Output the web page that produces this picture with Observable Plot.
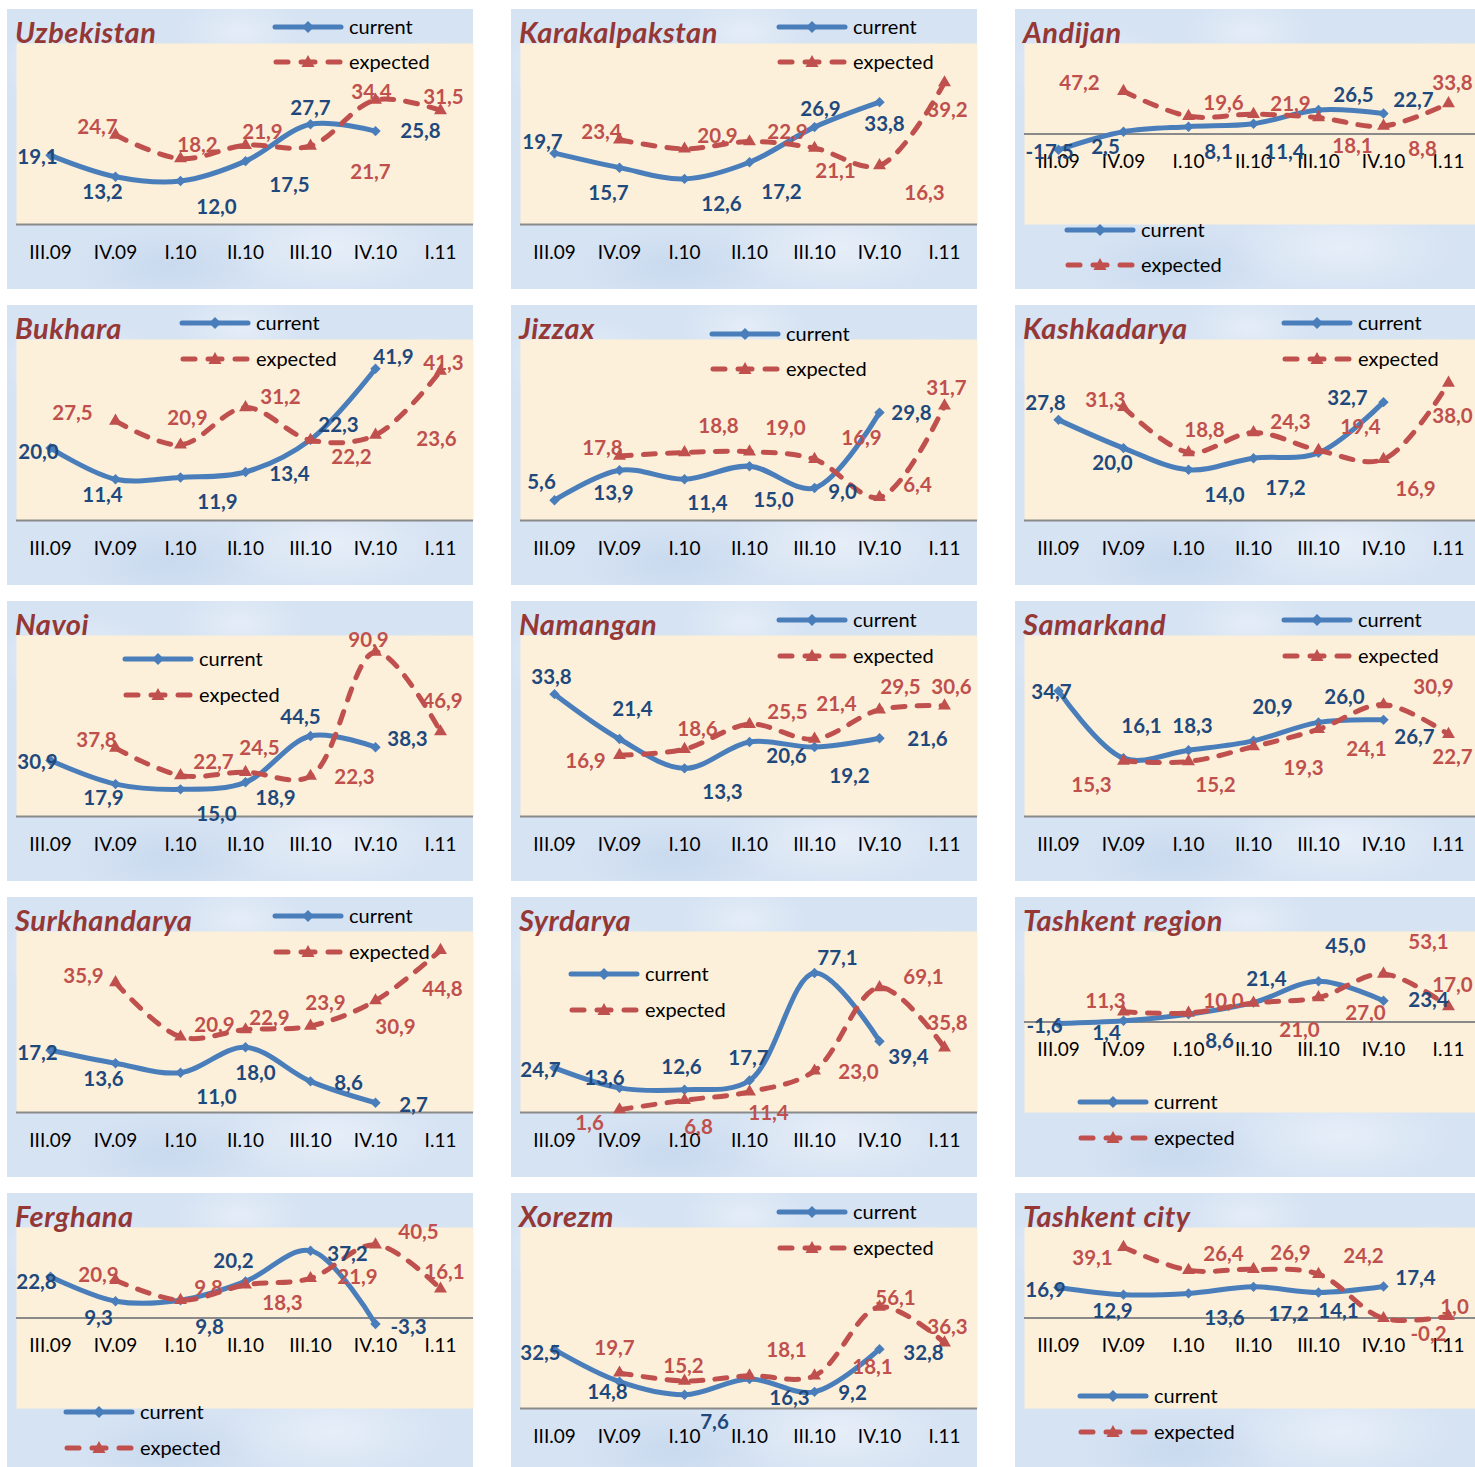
<!DOCTYPE html>
<html>
<head>
<meta charset="utf-8">
<script src="https://cdn.jsdelivr.net/npm/d3@7"></script>
<script src="https://cdn.jsdelivr.net/npm/@observablehq/plot@0.6"></script>
<style>
  body { margin: 0; background: #ffffff; overflow: hidden; font-family: Lato, "Open Sans", sans-serif; }
  #root { position: relative; width: 1475px; height: 1467px; overflow: hidden; }
  .panel {
    position: absolute; width: 466px; height: 280px;
    background-color: #d6e3f3;
    background-image:
      radial-gradient(ellipse 120px 60px at 15% 20%, rgba(255,255,255,0.45), rgba(255,255,255,0) 70%),
      radial-gradient(ellipse 160px 70px at 70% 85%, rgba(255,255,255,0.40), rgba(255,255,255,0) 70%),
      radial-gradient(ellipse 100px 80px at 90% 30%, rgba(255,255,255,0.35), rgba(255,255,255,0) 70%),
      radial-gradient(ellipse 140px 60px at 35% 92%, rgba(190,210,235,0.55), rgba(190,210,235,0) 70%),
      radial-gradient(ellipse 90px 50px at 50% 8%, rgba(255,255,255,0.35), rgba(255,255,255,0) 70%);
  }
  .panel > svg.chart { position: absolute; left: 0; top: 0; overflow: visible; }
  .title {
    position: absolute; left: 8px; top: 8px; line-height: 1; white-space: nowrap; letter-spacing: 0.5px;
    font-family: Lato, sans-serif; font-style: italic; font-weight: bold; font-size: 29px; color: #953735;
  }
  .legend { position: absolute; overflow: visible; }
</style>
</head>
<body>
<div id="root"></div>
<script>
// ---------------- DATA ----------------
const quarters = ["III.09", "IV.09", "I.10", "II.10", "III.10", "IV.10", "I.11"];

const regions = [
  "Uzbekistan", "Karakalpakstan", "Andijan",
  "Bukhara", "Jizzax", "Kashkadarya",
  "Navoi", "Namangan", "Samarkand",
  "Surkhandarya", "Syrdarya", "Tashkent region",
  "Ferghana", "Xorezm", "Tashkent city"
];

// "current" series: III.09 … IV.10
const currentValues = [
  [19.1, 13.2, 12.0, 17.5, 27.7, 25.8],   // Uzbekistan
  [19.7, 15.7, 12.6, 17.2, 26.9, 33.8],   // Karakalpakstan
  [-17.5, 2.5, 8.1, 11.4, 26.5, 22.7],    // Andijan
  [20.0, 11.4, 11.9, 13.4, 22.3, 41.9],   // Bukhara
  [5.6, 13.9, 11.4, 15.0, 9.0, 29.8],     // Jizzax
  [27.8, 20.0, 14.0, 17.2, 18.7, 32.7],   // Kashkadarya
  [30.9, 17.9, 15.0, 18.9, 44.5, 38.3],   // Navoi
  [33.8, 21.4, 13.3, 20.6, 19.2, 21.6],   // Namangan
  [34.7, 16.1, 18.3, 20.9, 26.0, 26.7],   // Samarkand
  [17.2, 13.6, 11.0, 18.0, 8.6, 2.7],     // Surkhandarya
  [24.7, 13.6, 12.6, 17.7, 77.1, 39.4],   // Syrdarya
  [-1.6, 1.4, 8.6, 21.4, 45.0, 23.4],     // Tashkent region
  [22.8, 9.3, 9.8, 20.2, 37.2, -3.3],     // Ferghana
  [32.5, 14.8, 7.6, 16.3, 9.2, 32.8],     // Xorezm
  [16.9, 12.9, 13.6, 17.2, 14.1, 17.4]    // Tashkent city
];

// "expected" series: IV.09 … I.11
const expectedValues = [
  [24.7, 18.2, 21.9, 21.7, 34.4, 31.5],   // Uzbekistan
  [23.4, 20.9, 22.9, 21.1, 16.3, 39.2],   // Karakalpakstan
  [47.2, 19.6, 21.9, 18.1, 8.8, 33.8],    // Andijan
  [27.5, 20.9, 31.2, 22.2, 23.6, 41.3],   // Bukhara
  [17.8, 18.8, 19.0, 16.9, 6.4, 31.7],    // Jizzax
  [31.3, 18.8, 24.3, 19.4, 16.9, 38.0],   // Kashkadarya
  [37.8, 22.7, 24.5, 22.3, 90.9, 46.9],   // Navoi
  [16.9, 18.6, 25.5, 21.4, 29.5, 30.6],   // Namangan
  [15.3, 15.2, 19.3, 24.1, 30.9, 22.7],   // Samarkand
  [35.9, 20.9, 22.9, 23.9, 30.9, 44.8],   // Surkhandarya
  [1.6, 6.8, 11.4, 23.0, 69.1, 35.8],     // Syrdarya
  [11.3, 10.0, 21.0, 27.0, 53.1, 17.0],   // Tashkent region
  [20.9, 9.8, 18.3, 21.9, 40.5, 16.1],    // Ferghana
  [19.7, 15.2, 18.1, 18.1, 56.1, 36.3],   // Xorezm
  [39.1, 26.4, 26.9, 24.2, -0.2, 1.0]     // Tashkent city
];

// ---------------- LAYOUT (axis ranges, label placement, legend placement) ----------------
const yDomains = [
  [0, 50], [0, 50], [-100, 100],
  [0, 50], [0, 50], [0, 50],
  [0, 100], [0, 50], [0, 50],
  [0, 50], [0, 100], [-100, 100],
  [-50, 50], [0, 100], [-50, 50]
];

// label offsets [dx, dy] from each point; null = label hidden
const curLabelOffsets = [
  [[-13,2],[-13,16],[36,26],[44,24],[0,-16],[45,0]],
  [[-12,-11],[-11,26],[37,26],[32,30],[6,-18],[5,22]],
  [[-9,3],[-18,16],[30,26],[31,29],[35,-15],[30,-13]],
  [[-12,4],[-13,16],[37,25],[44,2],[28,-14],[18,-11]],
  [[-13,-18],[-6,23],[23,24],[24,34],[28,5],[32,1]],
  [[-13,-16],[-11,15],[36,26],[32,30],null,[-36,-4]],
  [[-13,2],[-12,14],[36,25],[30,16],[-10,-19],[32,-8]],
  [[-3,-17],[13,-30],[38,24],[37,15],[35,29],[48,1]],
  [[-7,2],[18,-32],[4,-24],[19,-33],[26,-25],[31,18]],
  [[-13,3],[-12,16],[36,25],[10,26],[38,2],[38,3]],
  [[-14,3],[-15,-9],[-3,-22],[-1,-22],[23,-15],[29,16]],
  [[-14,3],[-17,13],[31,27],[13,-23],[27,-35],[45,0]],
  [[-14,6],[-17,17],[29,27],[-12,-20],[37,4],[33,3]],
  [[-14,4],[-12,11],[30,28],[40,19],[38,2],[44,4]],
  [[-13,3],[-11,17],[36,25],[35,28],[20,19],[32,-8]]
];
const expLabelOffsets = [
  [[-18,-8],[17,-13],[17,-13],[60,26],[-4,-8],[3,-13]],
  [[-18,-7],[33,-12],[38,-9],[21,23],[45,28],[3,28]],
  [[-44,-8],[35,-13],[37,-10],[34,29],[39,23],[4,-20]],
  [[-43,-8],[7,-26],[35,-10],[41,17],[61,4],[3,-8]],
  [[-17,-8],[34,-26],[36,-23],[47,-21],[38,-12],[2,-17]],
  [[-18,-7],[16,-22],[37,-10],[42,-23],[32,30],[4,33]],
  [[-19,-8],[33,-13],[14,-24],[44,1],[-7,-12],[2,-30]],
  [[-34,6],[13,-20],[38,-12],[22,-35],[21,-22],[7,-18]],
  [[-32,24],[27,24],[50,22],[48,20],[50,-17],[4,23]],
  [[-32,-6],[34,-11],[24,-11],[15,-23],[20,27],[2,39]],
  [[-30,14],[14,27],[19,22],[44,2],[44,-10],[3,-24]],
  [[-18,-10],[35,-12],[46,27],[47,16],[45,-32],[4,-21]],
  [[-17,-5],[28,-12],[37,19],[47,-1],[43,-12],[4,-16]],
  [[-5,-24],[-1,-15],[37,-25],[58,-8],[16,-9],[3,-15]],
  [[-31,11],[35,-16],[37,-16],[45,-18],[45,16],[6,-9]]
];

// legend: [line start x, current row y, expected row y] (panel-relative)
const legendPlacement = [
  [266, 18, 53], [266, 18, 53], [50, 221, 256],
  [173, 18, 54], [199, 29, 64], [267, 18, 54],
  [116, 58, 94], [266, 19, 55], [267, 19, 55],
  [266, 19, 55], [58, 77, 113], [63, 205, 241],
  [57, 219, 255], [266, 19, 55], [63, 203, 239]
];

const colX = [7, 511, 1015];
const rowY = [9, 305, 601, 897, 1193];

const BLUE = "#4a7ebb", RED = "#c0504d", BLUE_TXT = "#1f497d", CREAM = "#fcf0da";
const fmt = d3.formatLocale({decimal: ",", thousands: ".", grouping: [3], currency: ["", ""], minus: "-"}).format(".1f");

const root = document.getElementById("root");

function legendSVG(place) {
  const [lx, yc, ye] = place;
  const ns = "http://www.w3.org/2000/svg";
  const svg = document.createElementNS(ns, "svg");
  svg.setAttribute("class", "legend");
  svg.setAttribute("width", 180); svg.setAttribute("height", ye - yc + 24);
  svg.style.left = lx + "px"; svg.style.top = (yc - 12) + "px";
  const y1 = 12, y2 = 12 + (ye - yc);
  svg.innerHTML = `
    <line x1="2" x2="68" y1="${y1}" y2="${y1}" stroke="${BLUE}" stroke-width="5" stroke-linecap="round"/>
    <polygon points="35,${y1-6} 41,${y1} 35,${y1+6} 29,${y1}" fill="${BLUE}"/>
    <text x="76" y="${y1}" dy="0.35em" font-family="Lato, sans-serif" font-size="20" fill="#000">current</text>
    <line x1="3" x2="15" y1="${y2}" y2="${y2}" stroke="${RED}" stroke-width="5" stroke-linecap="round"/>
    <line x1="28" x2="42" y1="${y2}" y2="${y2}" stroke="${RED}" stroke-width="5" stroke-linecap="round"/>
    <line x1="55" x2="67" y1="${y2}" y2="${y2}" stroke="${RED}" stroke-width="5" stroke-linecap="round"/>
    <polygon points="35,${y2-7} 41.5,${y2+5} 28.5,${y2+5}" fill="${RED}"/>
    <text x="76" y="${y2}" dy="0.35em" font-family="Lato, sans-serif" font-size="20" fill="#000">expected</text>`;
  return svg;
}

regions.forEach((name, k) => {
  const col = k % 3, row = Math.floor(k / 3);
  const panel = document.createElement("div");
  panel.className = "panel";
  panel.style.left = colX[col] + "px";
  panel.style.top = rowY[row] + "px";
  root.appendChild(panel);

  const cur = currentValues[k].map((v, i) => ({q: quarters[i], v, off: curLabelOffsets[k][i]}));
  const exp = expectedValues[k].map((v, i) => ({q: quarters[i + 1], v, off: expLabelOffsets[k][i]}));

  const labelMarks = [];
  cur.forEach(d => {
    if (!d.off) return;
    labelMarks.push(Plot.text([d], {x: "q", y: "v", text: d => fmt(d.v), dx: d.off[0], dy: d.off[1],
      fill: BLUE_TXT, fontWeight: "bold", fontSize: 20.5}));
  });
  exp.forEach(d => {
    if (!d.off) return;
    labelMarks.push(Plot.text([d], {x: "q", y: "v", text: d => fmt(d.v), dx: d.off[0], dy: d.off[1],
      fill: RED, fontWeight: "bold", fontSize: 20.5}));
  });

  const chart = Plot.plot({
    width: 466, height: 280,
    marginLeft: 9, marginRight: 0, marginTop: 34, marginBottom: 65,
    x: {type: "point", domain: quarters, padding: 0.5, axis: null},
    y: {domain: yDomains[k], axis: null},
    style: {background: "transparent", fontFamily: "Lato, sans-serif", overflow: "visible"},
    marks: [
      Plot.frame({fill: CREAM, stroke: null}),
      Plot.ruleY([0], {stroke: "#8a8a8a", strokeWidth: 2}),
      Plot.text(quarters, {x: d => d, y: () => 0, dy: 28, text: d => d, fill: "#000", fontSize: 19}),
      Plot.line(cur, {x: "q", y: "v", curve: "catmull-rom", stroke: BLUE, strokeWidth: 5, strokeLinecap: "round"}),
      Plot.dot(cur, {x: "q", y: "v", symbol: "diamond2", r: 4.7, fill: BLUE, stroke: null}),
      Plot.line(exp, {x: "q", y: "v", curve: "catmull-rom", stroke: RED, strokeWidth: 5,
        strokeDasharray: "12,12", strokeLinecap: "round"}),
      Plot.dot(exp, {x: "q", y: "v", symbol: "triangle", r: 4.8, fill: RED, stroke: null}),
      ...labelMarks
    ]
  });
  chart.classList.add("chart");
  panel.appendChild(chart);

  const title = document.createElement("div");
  title.className = "title";
  title.textContent = name;
  panel.appendChild(title);

  panel.appendChild(legendSVG(legendPlacement[k]));
});
</script>
</body>
</html>
